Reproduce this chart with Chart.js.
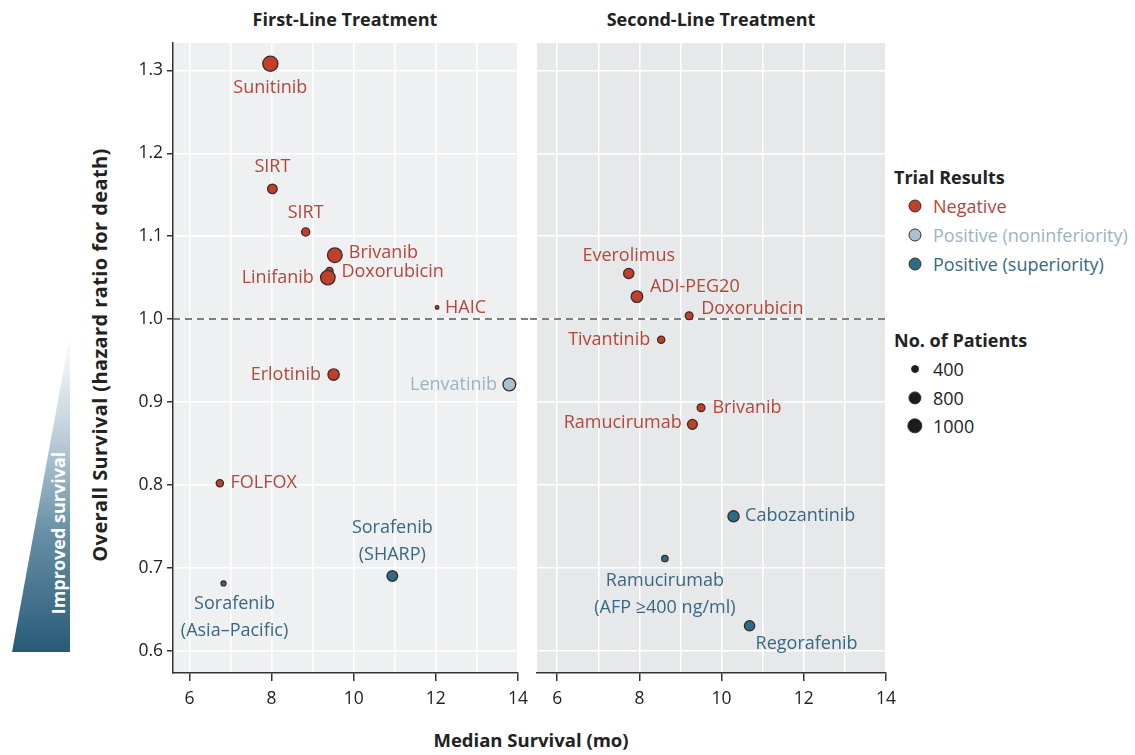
<!DOCTYPE html>
<html>
<head>
<meta charset="utf-8">
<script src="https://cdn.jsdelivr.net/npm/chart.js@4.4.1/dist/chart.umd.min.js"></script>
<style>
  body { margin: 0; background: #fff; width: 1135px; height: 755px; position: relative; overflow: hidden;
         font-family: "Open Sans", "Noto Sans", sans-serif; }
  canvas { position: absolute; top: 0; }
  #firstCanvas { left: 0; }
  #secondCanvas { left: 530px; }
  .bold { position: absolute; font-weight: bold; color: #222; white-space: nowrap; line-height: 1; }
  .center { transform: translate(-50%, -50%); }
  #yTitle { left: 100px; top: 355px; font-size: 20px; letter-spacing: 0.4px; transform: translate(-50%, -50%) rotate(-90deg); }
  #wedge { position: absolute; left: 12px; top: 335px; width: 58px; height: 317px;
           clip-path: polygon(100% 0, 100% 100%, 0 100%);
           background: linear-gradient(to bottom, #ffffff 0%, #c2d2dc 30%, #6890a6 62%, #285b78 100%); }
  #wedgeText { position: absolute; left: 58px; top: 533px; font-size: 18px; font-weight: bold; color: #fff;
               white-space: nowrap; transform: translate(-50%, -50%) rotate(-90deg); line-height: 1; }
  .leg { position: absolute; font-size: 18px; white-space: nowrap; line-height: 1; transform: translateY(-50%); }
  .dot { position: absolute; border-radius: 50%; transform: translate(-50%, -50%); box-sizing: border-box; }
</style>
</head>
<body>
<div id="wedge"></div>
<div id="wedgeText">Improved survival</div>
<div class="bold" id="yTitle">Overall Survival (hazard ratio for death)</div>
<div class="bold center" style="left:345px; top:19px; font-size:18px;">First-Line Treatment</div>
<div class="bold center" style="left:711px; top:19px; font-size:18px;">Second-Line Treatment</div>
<div class="bold center" style="left:531px; top:740px; font-size:18.5px;">Median Survival (mo)</div>
<div id="legend"></div>
<canvas id="firstCanvas" width="530" height="755"></canvas>
<canvas id="secondCanvas" width="370" height="755"></canvas>
<script>
// ---- data ----
const firstNames = ['Sunitinib', 'SIRT', 'SIRT', 'Brivanib', 'Doxorubicin', 'Linifanib', 'HAIC',
                    'Erlotinib', 'Lenvatinib', 'FOLFOX', 'Sorafenib\n(SHARP)', 'Sorafenib\n(Asia–Pacific)'];
const firstMedian = [7.97, 8.02, 8.83, 9.54, 9.41, 9.37, 12.03, 9.51, 13.79, 6.74, 10.94, 6.83];
const firstHR = [1.308, 1.157, 1.105, 1.077, 1.058, 1.050, 1.014, 0.933, 0.921, 0.802, 0.690, 0.681];
const firstPatients = [1100, 600, 500, 1050, 430, 1040, 230, 740, 860, 430, 680, 300];
const firstResult = ['neg', 'neg', 'neg', 'neg', 'neg', 'neg', 'neg', 'neg', 'noninf', 'neg', 'sup', 'sup'];

const secondNames = ['Everolimus', 'ADI-PEG20', 'Doxorubicin', 'Tivantinib', 'Brivanib', 'Ramucirumab',
                     'Cabozantinib', 'Ramucirumab\n(AFP ≥400 ng/ml)', 'Regorafenib'];
const secondMedian = [7.74, 7.94, 9.21, 8.53, 9.50, 9.29, 10.29, 8.62, 10.68];
const secondHR = [1.055, 1.027, 1.004, 0.975, 0.893, 0.873, 0.762, 0.711, 0.630];
const secondPatients = [650, 760, 470, 430, 470, 620, 730, 380, 660];
const secondResult = ['neg', 'neg', 'neg', 'neg', 'neg', 'neg', 'sup', 'sup', 'sup'];

const xGridValues = [6, 7, 8, 9, 10, 11, 12, 13, 14];
const yTickValues = [0.6, 0.7, 0.8, 0.9, 1.0, 1.1, 1.2, 1.3];
const refHR = 1.0;

const resultKeys = ['neg', 'noninf', 'sup'];
const resultNames = ['Negative', 'Positive (noninferiority)', 'Positive (superiority)'];
const legendPatients = [400, 800, 1000];

// ---- styles ----
const FONT = '"Open Sans", "Noto Sans", sans-serif';
const fillColor = { neg: '#c1402b', noninf: '#a9c2d2', sup: '#2e6b87' };
const textColor = { neg: '#b5463a', noninf: '#9bb3c3', sup: '#386883' };
const outline = '#3a2a26';

// label anchor: [align, dx, dy] relative to the point centre
const firstLabelStyle = [
  ['center', 0, 24], ['center', 0, -22], ['center', 0, -19], ['left', 14, -2], ['left', 12, 1],
  ['right', -14, 0], ['left', 8, 0], ['right', -12.6, 0], ['right', -12.3, 0], ['left', 10.7, 0],
  ['center', 0, -48], ['center', 11, 20]
];
const secondLabelStyle = [
  ['center', 0, -18], ['left', 13, -10], ['left', 12, -7], ['right', -11, 0], ['left', 11.4, 0],
  ['right', -10.7, -1], ['left', 11.6, 0], ['center', 0, 22], ['center', 57, 18]
];

function radiusFor(n) {
  return Math.max(1.8, 0.32 * Math.sqrt(n) - 3.05);
}

function makePanel(canvasId, names, xs, ys, patients, results, labelStyle, o) {
  const points = xs.map((x, i) => ({ x: x, y: ys[i] }));

  const panelBg = {
    id: 'panelBg',
    beforeDraw(chart) {
      const a = chart.chartArea, ctx = chart.ctx;
      ctx.save();
      ctx.fillStyle = o.bg;
      ctx.fillRect(a.left, a.top, a.right - a.left, a.bottom - a.top);
      ctx.restore();
    }
  };

  const refLine = {
    id: 'refLine',
    beforeDatasetsDraw(chart) {
      const ctx = chart.ctx;
      const y = chart.scales.y.getPixelForValue(refHR);
      ctx.save();
      ctx.strokeStyle = '#555';
      ctx.lineWidth = 1.5;
      ctx.setLineDash([7, 5]);
      ctx.beginPath();
      ctx.moveTo(o.lineFrom(chart), y);
      ctx.lineTo(o.lineTo(chart), y);
      ctx.stroke();
      ctx.restore();
    }
  };

  const pointLabels = {
    id: 'pointLabels',
    afterDatasetsDraw(chart) {
      const ctx = chart.ctx;
      const meta = chart.getDatasetMeta(0);
      ctx.save();
      ctx.font = '18px ' + FONT;
      ctx.textBaseline = 'middle';
      names.forEach((name, i) => {
        const el = meta.data[i];
        const st = labelStyle[i];
        ctx.fillStyle = textColor[results[i]];
        ctx.textAlign = st[0];
        name.split('\n').forEach((line, k) => {
          ctx.fillText(line, el.x + st[1], el.y + st[2] + k * 27);
        });
      });
      ctx.restore();
    }
  };

  return new Chart(document.getElementById(canvasId), {
    type: 'scatter',
    data: {
      datasets: [{
        data: points,
        pointRadius: ctx => radiusFor(patients[ctx.dataIndex]),
        pointHoverRadius: ctx => radiusFor(patients[ctx.dataIndex]),
        backgroundColor: ctx => fillColor[results[ctx.dataIndex]],
        borderColor: outline,
        borderWidth: 1.3
      }]
    },
    options: {
      responsive: false,
      animation: false,
      layout: { padding: o.padding },
      plugins: { legend: { display: false }, tooltip: { enabled: false } },
      scales: {
        x: {
          type: 'linear',
          min: o.xMin,
          max: 14,
          afterBuildTicks: s => { s.ticks = xGridValues.map(v => ({ value: v })); },
          afterFit: s => { s.height = 82; s.paddingLeft = 0; s.paddingRight = 0; },
          ticks: {
            autoSkip: false,
            maxRotation: 0,
            padding: 8,
            color: '#222',
            font: { family: FONT, size: 17.5 },
            callback: v => (v % 2 === 0 ? String(v) : '')
          },
          grid: {
            color: '#ffffff',
            lineWidth: 1.5,
            tickLength: 8,
            tickColor: c => (c.tick && c.tick.value % 2 === 0 ? '#333' : 'rgba(0,0,0,0)'),
            tickWidth: 1.5
          },
          border: { display: true, color: '#333', width: 1.5 }
        },
        y: {
          type: 'linear',
          min: 0.573,
          max: 1.333,
          afterBuildTicks: s => { s.ticks = yTickValues.map(v => ({ value: v })); },
          afterFit: s => { s.width = o.yWidth; s.paddingTop = 0; s.paddingBottom = 0; },
          ticks: {
            display: o.showY,
            padding: 4,
            color: '#222',
            font: { family: FONT, size: 17.5 },
            callback: v => v.toFixed(1)
          },
          grid: {
            color: '#ffffff',
            lineWidth: 1.5,
            drawTicks: o.showY,
            tickLength: 6,
            tickColor: '#333',
            tickWidth: 1.5
          },
          border: { display: o.showY, color: '#333', width: 1.5 }
        }
      }
    },
    plugins: [panelBg, refLine, pointLabels]
  });
}

makePanel('firstCanvas', firstNames, firstMedian, firstHR, firstPatients, firstResult, firstLabelStyle, {
  bg: '#eff0f2',
  xMin: 5.6,
  yWidth: 173,
  showY: true,
  padding: { top: 43, right: 12, left: 0, bottom: 0 },
  lineFrom: c => c.chartArea.left,
  lineTo: c => c.width
});

makePanel('secondCanvas', secondNames, secondMedian, secondHR, secondPatients, secondResult, secondLabelStyle, {
  bg: '#e7e8ea',
  xMin: 5.51,
  yWidth: 0,
  showY: false,
  padding: { top: 43, right: 14, left: 6, bottom: 0 },
  lineFrom: c => 0,
  lineTo: c => c.chartArea.right
});

// ---- legend (HTML) ----
const legend = document.getElementById('legend');
function addBold(text, y) {
  const d = document.createElement('div');
  d.className = 'bold';
  d.style.cssText = 'left:894px; top:' + y + 'px; font-size:18px; transform:translateY(-50%);';
  d.textContent = text;
  legend.appendChild(d);
}
function addItem(y, r, fill, label, color) {
  const dot = document.createElement('div');
  dot.className = 'dot';
  dot.style.cssText = 'left:915px; top:' + y + 'px; width:' + (2 * r) + 'px; height:' + (2 * r) +
    'px; background:' + fill + '; border:1.3px solid ' + outline + ';';
  legend.appendChild(dot);
  const t = document.createElement('div');
  t.className = 'leg';
  t.style.cssText = 'left:933px; top:' + y + 'px; color:' + color + ';';
  t.textContent = label;
  legend.appendChild(t);
}
addBold('Trial Results', 177);
resultKeys.forEach((k, i) => addItem(206 + i * 29, 6.5, fillColor[k], resultNames[i], textColor[k]));
addBold('No. of Patients', 340);
legendPatients.forEach((n, i) => addItem(369 + i * 28.5, radiusFor(n) + 0.6, '#1c1c1c', String(n), '#222'));
</script>
</body>
</html>
